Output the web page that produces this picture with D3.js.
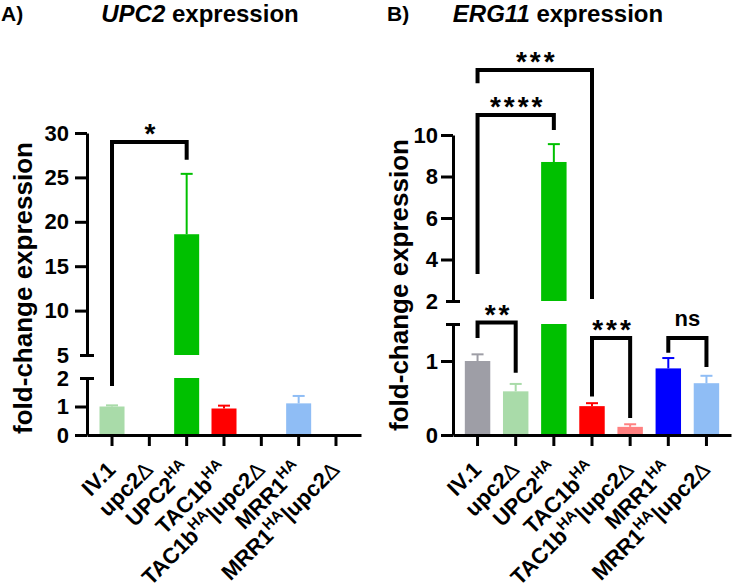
<!DOCTYPE html>
<html><head><meta charset="utf-8">
<script src="https://cdn.jsdelivr.net/npm/d3@7"></script>
<style>
body{margin:0;background:#fff}
svg{display:block}
text{font-family:"Liberation Sans",Arial,sans-serif;font-weight:bold;fill:#000}
</style>
</head><body>
<svg id="c" width="736" height="585"></svg>
<script>
// ---- data ----
const categories = ["IV.1", "upc2Δ", "UPC2^HA", "TAC1b^HA", "TAC1b^HA|upc2Δ", "MRR1^HA", "MRR1^HA|upc2Δ"];
const upc2Values = [1.0, 0, 18.6, 0.93, 0, 1.11, 0];
const upc2Errors = [0.04, 0, 6.8, 0.1, 0, 0.26, 0];
const upc2Colors = ["#a9dba9", "#a9dba9", "#00c000", "#ff0000", "#ff8080", "#8fbdf5", "#8fbdf5"];
const erg11Values = [1.0, 0.59, 8.7, 0.39, 0.11, 0.9, 0.7];
const erg11Errors = [0.09, 0.1, 0.86, 0.04, 0.035, 0.14, 0.1];
const erg11Colors = ["#9e9ea6", "#a9dba9", "#00c000", "#ff0000", "#ff8080", "#0000ff", "#8fbdf5"];
const upc2LowTicks = [0, 1, 2];
const upc2HighTicks = [5, 10, 15, 20, 25, 30];
const erg11LowTicks = [0, 1, 1.5];
const erg11HighTicks = [2, 4, 6, 8, 10];
// significance comparisons: bar indices, bracket height, leg end values, label
const upc2Comparisons = [
  {a: 0, b: 2, y: 29.0, ya: 1.72, yb: 27.0, label: "*"}
];
const erg11Comparisons = [
  {a: 0, b: 3, y: 13.13, ya: 12.5, yb: 2.1, label: "***"},
  {a: 0, b: 2, y: 10.96, ya: 3.3, yb: 10.24, label: "****"},
  {a: 0, b: 1, y: 1.52, ya: 1.31, yb: 0.84, label: "**"},
  {a: 3, b: 4, y: 1.31, ya: 0.52, yb: 0.23, label: "***"},
  {a: 5, b: 6, y: 1.31, ya: 1.11, yb: 0.92, label: "ns"}
];

const svg = d3.select("#c");

function panel(opt) {
  const g = svg.append("g");
  const low = d3.scaleLinear().domain([0, opt.lowMax]).range([opt.bottom, opt.lowTop]);
  const high = d3.scaleLinear().domain([opt.highMin, opt.highMax]).range([opt.highBottom, opt.top]);
  const y = v => v < opt.highMin ? low(v) : high(v);
  const x = d3.scaleBand().domain(categories).range([opt.left, opt.right])
    .paddingInner(opt.padIn).paddingOuter(opt.padOut);
  const bw = x.bandwidth();
  const cx = c => x(c) + bw / 2;

  // bars (split across the axis break)
  opt.values.forEach((v, i) => {
    if (v <= 0) return;
    const c = categories[i];
    const col = opt.colors[i];
    const vl = Math.min(v, opt.lowMax);
    g.append("rect").attr("x", x(c)).attr("width", bw)
      .attr("y", low(vl)).attr("height", low(0) - low(vl))
      .attr("fill", col);
    if (v > opt.highMin) {
      g.append("rect").attr("x", x(c)).attr("width", bw)
        .attr("y", high(v)).attr("height", high(opt.highMin) - high(v))
        .attr("fill", col);
    }
    const e = opt.errors[i];
    if (e > 0) {
      g.append("line").attr("x1", cx(c)).attr("x2", cx(c)).attr("y1", y(v)).attr("y2", y(v + e))
        .attr("stroke", col).attr("stroke-width", 2);
      g.append("line").attr("x1", cx(c) - 6).attr("x2", cx(c) + 6).attr("y1", y(v + e)).attr("y2", y(v + e))
        .attr("stroke", col).attr("stroke-width", 2);
    }
  });

  // y axes (two segments)
  function yAxis(scale, ticks, caps) {
    const ax = g.append("g").attr("transform", `translate(${opt.left},0)`)
      .call(d3.axisLeft(scale).tickValues(ticks).tickSize(12).tickSizeOuter(0).tickPadding(opt.tickPad)
        .tickFormat(d => opt.hideLabels.includes(d) ? "" : d3.format("d")(d)));
    ax.attr("font-size", null).attr("font-family", null);
    ax.select(".domain").attr("stroke", "#000").attr("stroke-width", 3);
    ax.selectAll(".tick line").attr("stroke", "#000").attr("stroke-width", 3)
      .filter(d => caps.includes(d)).attr("x1", 7).attr("x2", -7);
    ax.selectAll(".tick text").attr("font-size", 22).attr("fill", "#000");
  }
  yAxis(low, opt.lowTicks, [opt.lowMax]);
  yAxis(high, opt.highTicks, [opt.highMin]);

  // x axis
  const xa = g.append("g").attr("transform", `translate(0,${opt.bottom})`)
    .call(d3.axisBottom(x).tickSize(11).tickSizeOuter(0).tickFormat(""));
  xa.select(".domain").attr("stroke", "#000").attr("stroke-width", 3);
  xa.selectAll(".tick line").attr("stroke", "#000").attr("stroke-width", 3);

  // rotated category labels
  categories.forEach(c => {
    const t = g.append("text").attr("text-anchor", "end").attr("font-size", 22)
      .attr("transform", `translate(${cx(c) + opt.labDx},${opt.labY}) rotate(-45)`);
    const parts = c.split(/(\^HA|Δ)/).filter(s => s.length);
    parts.forEach(p => {
      if (p === "^HA") {
        t.append("tspan").text("HA").attr("font-size", 15).attr("dy", -9);
        t.append("tspan").text("\u200B").attr("dy", 9);
      } else if (p === "Δ") {
        t.append("tspan").text("Δ").attr("font-weight", "normal");
      } else {
        t.append("tspan").text(p);
      }
    });
  });

  // significance brackets
  opt.comparisons.forEach(cmp => {
    const xa1 = cx(categories[cmp.a]), xb1 = cx(categories[cmp.b]);
    const yy = y(cmp.y);
    g.append("path")
      .attr("d", `M${xa1},${y(cmp.ya)}V${yy}H${xb1}V${y(cmp.yb)}`)
      .attr("fill", "none").attr("stroke", "#000").attr("stroke-width", 4);
    const isNs = cmp.label === "ns";
    g.append("text").attr("x", (xa1 + xb1) / 2 + (isNs ? 0 : 2)).attr("y", isNs ? yy - 12 : yy + 1)
      .attr("text-anchor", "middle").attr("font-size", isNs ? 22 : 28)
      .attr("font-weight", isNs ? "normal" : "bold")
      .attr("letter-spacing", isNs ? 0 : 3)
      .text(cmp.label);
  });

  // axis title
  g.append("text").attr("transform", `translate(${opt.ylabX},${opt.ylabY}) rotate(-90)`)
    .attr("text-anchor", "middle").attr("dominant-baseline", "central").attr("font-size", 26)
    .text("fold-change expression");

  // panel tag and title
  g.append("text").attr("x", opt.tagX).attr("y", 21).attr("font-size", 21).text(opt.tag);
  const tt = g.append("text").attr("x", opt.titleX).attr("y", 22).attr("font-size", 24).attr("text-anchor", "middle");
  tt.append("tspan").attr("font-style", "italic").text(opt.gene);
  tt.append("tspan").text(" expression");
}

panel({
  values: upc2Values, errors: upc2Errors, colors: upc2Colors,
  lowTicks: upc2LowTicks, highTicks: upc2HighTicks, hideLabels: [],
  comparisons: upc2Comparisons,
  lowMax: 2, highMin: 5, highMax: 30,
  left: 87, right: 361, bottom: 435, lowTop: 378, highBottom: 355, top: 133,
  padIn: 0.33, padOut: 0.335, tickPad: 6, labDx: 5, labY: 471,
  ylabX: 23, ylabY: 288, tag: "A)", tagX: 1, gene: "UPC2", titleX: 200
});
panel({
  values: erg11Values, errors: erg11Errors, colors: erg11Colors,
  lowTicks: erg11LowTicks, highTicks: erg11HighTicks, hideLabels: [1.5],
  comparisons: erg11Comparisons,
  lowMax: 1.5, highMin: 2, highMax: 10,
  left: 453, right: 731, bottom: 435, lowTop: 324, highBottom: 301, top: 135,
  padIn: 0.333, padOut: 0.31, tickPad: 3, labDx: 5, labY: 471,
  ylabX: 399, ylabY: 285, tag: "B)", tagX: 387, gene: "ERG11", titleX: 558
});
</script>
</body></html>
